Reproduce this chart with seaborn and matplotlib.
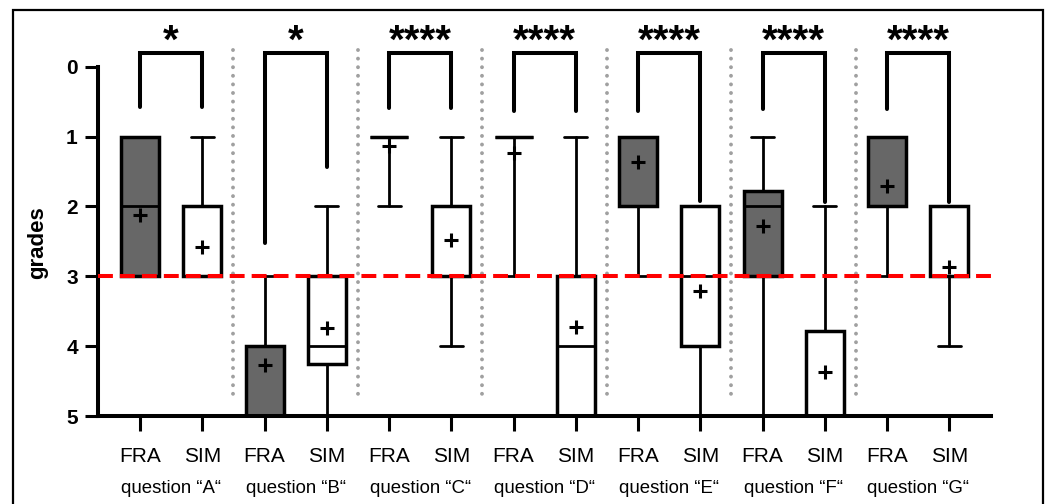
import pandas as pd
import seaborn as sns
import matplotlib.pyplot as plt
from matplotlib.patches import Rectangle

questions = ['A', 'B', 'C', 'D', 'E', 'F', 'G']

# box summaries (grade scale, 1 = best)
fra_whislo = [1, 3, 1, 1, 1, 1, 1]
fra_q1 = [1, 4, 1, 1, 1, 1.78, 1]
fra_med = [2, 4, 1, 1, 1, 2, 2]
fra_q3 = [3, 5, 1, 1, 2, 3, 2]
fra_whishi = [3, 5, 2, 3, 3, 5, 3]
fra_mean = [2.12, 4.27, 1.13, 1.23, 1.37, 2.28, 1.71]

sim_whislo = [1, 2, 1, 1, 2, 2, 2]
sim_q1 = [2, 3, 2, 3, 2, 3.78, 2]
sim_med = [3, 4, 2, 4, 3, 5, 3]
sim_q3 = [3, 4.25, 3, 5, 4, 5, 3]
sim_whishi = [3, 5, 4, 5, 5, 5, 4]
sim_mean = [2.58, 3.74, 2.48, 3.73, 3.21, 4.37, 2.86]

# significance brackets
stars = ['*', '*', '****', '****', '****', '****', '****']
bracket_fra = [0.58, 2.53, 0.59, 0.64, 0.64, 0.6, 0.6]
bracket_sim = [0.58, 1.43, 0.59, 0.64, 1.92, 1.93, 1.93]
bracket_top = -0.2

threshold = 3

rows = []
for i, q in enumerate(questions):
    rows.append(dict(question=q, group='FRA', pos=2 * i, whislo=fra_whislo[i], q1=fra_q1[i],
                     med=fra_med[i], q3=fra_q3[i], whishi=fra_whishi[i], mean=fra_mean[i]))
    rows.append(dict(question=q, group='SIM', pos=2 * i + 1, whislo=sim_whislo[i], q1=sim_q1[i],
                     med=sim_med[i], q3=sim_q3[i], whishi=sim_whishi[i], mean=sim_mean[i]))
df = pd.DataFrame(rows)

sns.set_theme(style='ticks')
plt.rcParams['font.family'] = ['Liberation Sans', 'DejaVu Sans']
plt.rcParams.update({'text.color': 'black', 'axes.labelcolor': 'black', 'axes.edgecolor': 'black',
                     'xtick.color': 'black', 'ytick.color': 'black'})

fig = plt.figure(figsize=(10.47, 5.04), dpi=100)
ax = fig.add_axes([98 / 1047, 1 - 416 / 504, (991 - 98) / 1047, 396 / 504])

stats = [dict(whislo=r.whislo, q1=r.q1, med=r.med, q3=r.q3, whishi=r.whishi, fliers=[], label=r.group)
         for r in df.itertuples()]
bp = ax.bxp(stats, positions=df['pos'], widths=0.61, capwidths=0.37, patch_artist=True,
            showfliers=False, manage_ticks=False,
            boxprops=dict(linewidth=2.5, edgecolor='black'),
            whiskerprops=dict(linewidth=2, color='black'),
            capprops=dict(linewidth=2, color='black'),
            medianprops=dict(linewidth=2, color='black'))
for box, g in zip(bp['boxes'], df['group']):
    box.set_facecolor('#676767' if g == 'FRA' else 'white')

# threshold line
ax.axhline(threshold, color='#ff0000', lw=2.9, ls=(0, (3.7, 1.75)), zorder=4)

# means
sns.scatterplot(data=df, x='pos', y='mean', marker='+', s=90, color='black', linewidth=2.2,
                ax=ax, zorder=5, legend=False)

# dotted separators between questions
for i in range(len(questions) - 1):
    ax.plot([2 * i + 1.5, 2 * i + 1.5], [-0.24, 4.74], color='#a0a0a0', lw=2.8,
            ls=(0, (0.01, 2.2)), dash_capstyle='round', zorder=1)

# brackets + stars
for i in range(len(questions)):
    x0, x1 = 2 * i, 2 * i + 1
    ax.plot([x0, x0, x1, x1], [bracket_fra[i], bracket_top, bracket_top, bracket_sim[i]],
            color='black', lw=2.9, solid_capstyle='round', solid_joinstyle='miter', clip_on=False)
    ax.text(i * 2 + 0.5, -0.2, stars[i], ha='center', va='baseline', fontsize=29,
            fontweight='bold', clip_on=False)

ax.set_ylim(5, -0.67)
ax.set_xlim(-0.675, 13.67)
ax.set_yticks([0, 1, 2, 3, 4, 5])
ax.set_yticklabels(['0', '1', '2', '3', '4', '5'], fontsize=15, fontweight='bold')
ax.set_xticks(df['pos'])
ax.set_xticklabels(df['group'], fontsize=15)
ax.tick_params(axis='y', length=9.5, width=2.2, pad=5)
ax.tick_params(axis='x', length=11, width=2.2, pad=11)
ax.set_xlabel('')
ax.set_ylabel('grades', fontsize=16, fontweight='bold')
ax.yaxis.set_label_coords(-0.056, 0.437)

for i, q in enumerate(questions):
    ax.text(2 * i + 0.5, -0.194, f'question \u201c{q}\u201c', transform=ax.get_xaxis_transform(),
            ha='center', va='baseline', fontsize=13.4)

sns.despine(ax=ax)
ax.spines['left'].set_bounds(0, 5)
ax.spines['left'].set_linewidth(2.9)
ax.spines['bottom'].set_linewidth(2.9)

fig.add_artist(Rectangle((13 / 1047, -0.05), 1030 / 1047, 1 - 10 / 504 + 0.05,
                         transform=fig.transFigure, fill=False, lw=1.6, ec='black', clip_on=False))

fig.savefig('out.png', dpi=100)
